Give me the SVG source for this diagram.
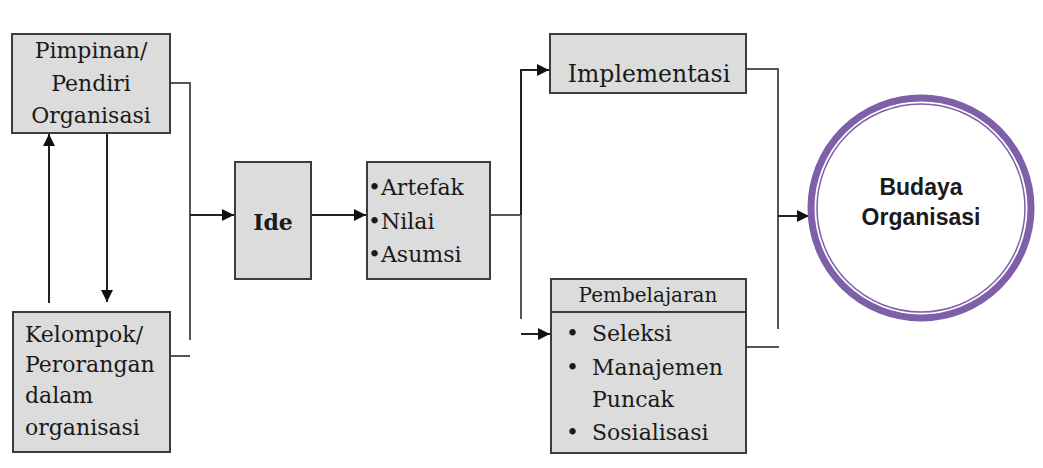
<svg xmlns="http://www.w3.org/2000/svg" width="1043" height="468" viewBox="0 0 1043 468">
<style>
.box{fill:#dcdcdc;stroke:#3c3c3c;stroke-width:2}
.t{font-family:"DejaVu Serif","Liberation Serif",serif;font-size:22px;fill:#1a1a1a}
.c{text-anchor:middle}
.ln{fill:none;stroke:#555;stroke-width:2}
.ar{fill:none;stroke:#222;stroke-width:2;marker-end:url(#ah)}
</style>
<defs>
<marker id="ah" viewBox="0 0 10 10" refX="10" refY="5" markerWidth="12" markerHeight="12" markerUnits="userSpaceOnUse" orient="auto">
<path d="M0,0 L10,5 L0,10 z" fill="#111"/>
</marker>
</defs>
<rect width="1043" height="468" fill="#fff"/>
<g id="connectors">
<polyline class="ln" points="170,83 190,83 190,340"/>
<line class="ln" x1="170" y1="356" x2="190" y2="356"/>
<line class="ar" x1="190" y1="215" x2="234" y2="215"/>
<line class="ar" x1="49" y1="303" x2="49" y2="134"/>
<line class="ar" x1="107" y1="134" x2="107" y2="302"/>
<line class="ar" x1="311" y1="215" x2="366" y2="215"/>
<polyline class="ln" points="490,215 521,215"/>
<polyline class="ar" points="521,215 521,70 549,70"/>
<line class="ln" x1="521" y1="215" x2="521" y2="319"/>
<line class="ar" x1="521" y1="334" x2="550" y2="334"/>
<polyline class="ln" points="746,69 778,69 778,329"/>
<line class="ln" x1="746" y1="347" x2="779" y2="347"/>
<line class="ar" x1="778" y1="216" x2="809" y2="216"/>
</g>
<g id="pimpinan">
<rect class="box" x="12" y="34" width="158" height="99"/>
<text class="t c" x="91" y="58">Pimpinan/</text>
<text class="t c" x="91" y="91">Pendiri</text>
<text class="t c" x="91" y="123">Organisasi</text>
</g>
<g id="kelompok">
<rect class="box" x="13" y="312" width="157" height="140"/>
<text class="t" x="25" y="342">Kelompok/</text>
<text class="t" x="25" y="372">Perorangan</text>
<text class="t" x="25" y="403">dalam</text>
<text class="t" x="25" y="435">organisasi</text>
</g>
<g id="ide">
<rect class="box" x="235" y="162" width="76" height="117"/>
<text class="t c" x="273" y="230" font-weight="bold">Ide</text>
</g>
<g id="artefak">
<rect class="box" x="367" y="162" width="123" height="117"/>
<text class="t" x="368" y="195">•Artefak</text>
<text class="t" x="368" y="229">•Nilai</text>
<text class="t" x="368" y="262">•Asumsi</text>
</g>
<g id="implementasi">
<rect class="box" x="550" y="34" width="196" height="59"/>
<text class="t c" x="649" y="82" style="font-size:23.5px">Implementasi</text>
</g>
<g id="pembelajaran">
<rect class="box" x="551" y="279" width="195" height="174"/>
<line x1="551" y1="312" x2="746" y2="312" stroke="#3c3c3c" stroke-width="2"/>
<text class="t c" x="648" y="302" style="font-size:20px">Pembelajaran</text>
<text class="t" x="566" y="341">•</text><text class="t" x="592" y="341">Seleksi</text>
<text class="t" x="566" y="375">•</text><text class="t" x="592" y="375">Manajemen</text>
<text class="t" x="592" y="407">Puncak</text>
<text class="t" x="566" y="440">•</text><text class="t" x="592" y="440">Sosialisasi</text>
</g>
<g id="budaya">
<circle cx="921" cy="208" r="110" fill="#fff" stroke="#7f5fa8" stroke-width="7"/>
<circle cx="921" cy="208" r="104" fill="none" stroke="#7f5fa8" stroke-width="1.5"/>
<text x="921" y="195" text-anchor="middle" font-family="Liberation Sans, Arial, sans-serif" font-weight="bold" font-size="23" fill="#1a1a1a">Budaya</text>
<text x="921" y="225" text-anchor="middle" font-family="Liberation Sans, Arial, sans-serif" font-weight="bold" font-size="23" fill="#1a1a1a">Organisasi</text>
</g>
</svg>
